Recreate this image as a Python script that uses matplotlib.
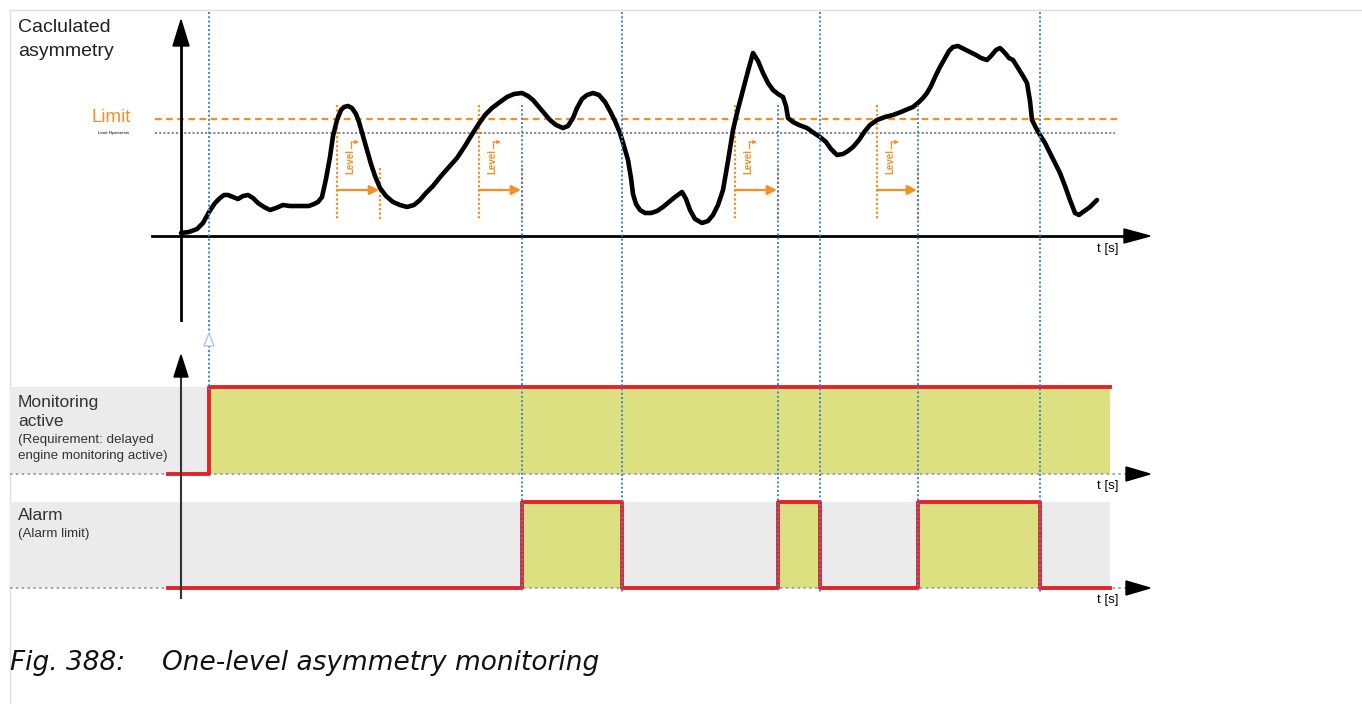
import matplotlib
matplotlib.use("Agg")
import matplotlib.pyplot as plt
from matplotlib.patches import Polygon

# ---- data ----
# calculated asymmetry curve: time (px right of the y axis), value (px above the t axis)
curve_t = [0, 8, 16, 22, 28, 34, 39, 43, 47, 52, 57, 62, 67, 72, 77, 83, 89, 95, 102, 109,
           116, 122, 128, 133, 137, 141, 145, 149, 152, 156, 160, 163, 167, 171, 175, 178,
           182, 186, 190, 194, 199, 205, 212, 219, 226, 233, 239, 245, 252, 260, 268, 276,
           284, 290, 297, 304, 311, 319, 326, 333, 341, 347, 352, 358, 364, 369, 375, 382,
           387, 392, 396, 401, 406, 412, 418, 424, 429, 434, 439, 443, 447, 450, 452, 455,
           459, 464, 470, 476, 482, 488, 494, 501, 505, 509, 514, 521, 527, 532, 537, 542,
           547, 552, 557, 562, 567, 572, 577, 582, 587, 592, 597, 602, 605, 607, 612, 618,
           626, 633, 639, 645, 650, 656, 662, 667, 672, 678, 684, 689, 696, 704, 712, 720,
           727, 732, 738, 742, 746, 750, 755, 759, 764, 768, 772, 777, 783, 789, 795, 800,
           806, 810, 815, 819, 824, 828, 832, 837, 842, 846, 849, 851, 855, 859, 864, 869,
           874, 879, 884, 889, 894, 898, 902, 909, 916]
curve_v = [3, 4, 7, 13, 24, 33, 38, 41, 41, 39, 37, 40, 41, 38, 33, 29, 26, 28, 31, 30,
           30, 30, 30, 32, 34, 39, 57, 79, 100, 116, 126, 129, 130, 128, 122, 114,
           100, 86, 72, 60, 48, 40, 34, 31, 29, 31, 36, 43, 50, 60, 69, 78,
           90, 100, 111, 121, 128, 134, 139, 142, 143, 140, 136, 129, 122, 116, 111, 108,
           110, 118, 128, 137, 141, 143, 141, 134, 125, 115, 103, 90, 76, 58, 42, 32,
           26, 23, 23, 25, 29, 34, 39, 44, 37, 26, 17, 13, 15, 21, 31, 46,
           75, 106, 127, 146, 165, 183, 175, 163, 153, 146, 142, 139, 130, 118, 114, 111,
           108, 103, 99, 94, 87, 81, 82, 85, 89, 96, 105, 111, 116, 119, 121, 124,
           127, 129, 134, 138, 143, 150, 161, 169, 178, 185, 189, 190, 187, 184, 181, 178,
           176, 180, 186, 188, 183, 178, 176, 168, 160, 153, 135, 116, 108, 101, 93, 83,
           73, 63, 50, 36, 23, 21, 24, 29, 36]

limit = 117
hysteresis = 103

# delay timers (start of limit crossing, delay length)
delay_start = [156, 298, 554, 696]
delay_len = [43, 43, 43, 41]

# event times (blue markers) and how tall they are
event_t = [28, 341, 441, 597, 639, 737, 859]
event_top = [12, 105, 12, 105, 12, 105, 12]

# binary signals
mon_t = [-13, 28, 929]
mon_v = [0, 1, 1]
alarm_t = [-13, 341, 441, 597, 639, 737, 859, 929]
alarm_v = [0, 1, 0, 1, 0, 1, 0, 0]

# ---- layout (pixels) ----
W, H = 1362, 704
T0 = 181          # x of the y axes
TOP_BASE = 236
MON_BASE, MON_HIGH = 474, 387
ALM_BASE, ALM_HIGH = 588, 502

ORANGE = "#f39025"
BLUE = "#3d86c8"
RED = "#e52228"
YELLOW = "#dce081"
GREYBG = "#ebebeb"
FONT = ["Liberation Sans", "DejaVu Sans"]

fig = plt.figure(figsize=(W / 100, H / 100), dpi=100)


def pixel_axes():
    a = fig.add_axes([0, 0, 1, 1])
    a.set_xlim(0, W)
    a.set_ylim(H, 0)
    a.axis("off")
    a.patch.set_alpha(0)
    return a


def overlay(base, unit):
    a = fig.add_axes([0, 0, 1, 1])
    a.set_xlim(-T0, W - T0)
    a.set_ylim((base - H) / unit, base / unit)
    a.axis("off")
    a.patch.set_alpha(0)
    return a


ax = pixel_axes()
ax_top = overlay(TOP_BASE, 1.0)
ax_mon = overlay(MON_BASE, MON_BASE - MON_HIGH)
ax_alm = overlay(ALM_BASE, ALM_BASE - ALM_HIGH)
ax_fg = pixel_axes()

# frame of the page
ax.plot([10, W], [10, 10], color="#dedede", lw=1)
ax.plot([10, 10], [10, H], color="#dedede", lw=1)

# ---- top panel ----
ax_top.plot([-29, 950], [0, 0], color="black", lw=2, zorder=3)
ax_top.plot([0, 0], [TOP_BASE - 320, TOP_BASE - 40], color="black", lw=2, zorder=3)
ax.add_patch(Polygon([[173, 46], [181, 20], [189, 46]], color="black", zorder=4))
ax.add_patch(Polygon([[1124, 229], [1150, 236], [1124, 243]], color="black", zorder=4))
ax.text(1108, 249, "t [s]", fontsize=9.5, family=FONT, ha="center", va="center")

ax_top.plot([-26, 939], [limit, limit], color=ORANGE, lw=1.6, ls=(0, (3, 2)), zorder=2)
ax_top.plot([-26, 934], [hysteresis, hysteresis], color="#8a8a8a", lw=1.5, ls=(0, (1, 1)), zorder=2)
ax.text(131, 117, "Limit", color=ORANGE, fontsize=13.5, family=FONT, ha="right", va="center")
ax.text(129, 133, "Limit Hysteresis", fontsize=3.2, family=FONT, ha="right", va="center")
ax.text(18, 27, "Caclulated", fontsize=14, family=FONT, ha="left", va="center", color="#222222")
ax.text(18, 51, "asymmetry", fontsize=14, family=FONT, ha="left", va="center", color="#222222")

for s, d in zip(delay_start, delay_len):
    ax_top.plot([s, s], [131, 16], color=ORANGE, lw=1.6, ls=(0, (1, 1)), zorder=2)
    ax_top.plot([s + d, s + d], [68, 16], color=ORANGE, lw=1.6, ls=(0, (1, 1)), zorder=2)
    ax_top.annotate("", xy=(s + d - 1, 46), xytext=(s, 46),
                    arrowprops=dict(arrowstyle="-|>", color=ORANGE, lw=1.6,
                                    mutation_scale=14, shrinkA=0, shrinkB=0), zorder=3)
    ax_top.text(s + 13, 74, "Level", rotation=90, fontsize=7, color=ORANGE,
                family=FONT, ha="center", va="center", fontweight="bold")
    ax_top.plot([s + 14, s + 14], [88, 94], color=ORANGE, lw=0.9)
    ax_top.annotate("", xy=(s + 22, 94), xytext=(s + 14, 94),
                    arrowprops=dict(arrowstyle="-|>", color=ORANGE, lw=0.9,
                                    mutation_scale=5, shrinkA=0, shrinkB=0))

ax_top.plot(curve_t, curve_v, color="black", lw=3.3, solid_joinstyle="round",
            solid_capstyle="round", zorder=5)

# ---- binary panels ----
for a, t, v, base in [(ax_mon, mon_t, mon_v, MON_BASE), (ax_alm, alarm_t, alarm_v, ALM_BASE)]:
    a.fill_between([-171, 929], 0, 1, color=GREYBG, lw=0, zorder=1)
    a.fill_between(t, 0, v, step="post", color=YELLOW, lw=0, zorder=2)
    a.plot([-171, 945], [0, 0], color="#999999", lw=1.2, ls=(0, (1.5, 2)), zorder=3)
    a.step(t, v, where="post", color=RED, lw=2.8, zorder=4)
    ax_fg.add_patch(Polygon([[1126, base - 7], [1150, base], [1126, base + 7]],
                            color="black", zorder=4))
    ax_fg.text(1108, base + 12, "t [s]", fontsize=9.5, family=FONT, ha="center", va="center")

# ---- event markers ----
for t, top in zip(event_t, event_top):
    bottom = 390 if t == event_t[0] else 592
    ax_fg.plot([T0 + t, T0 + t], [top, bottom], color=BLUE, lw=1.4, ls=(0, (1, 1.2)), zorder=3)
ax_fg.add_patch(Polygon([[204, 346], [209, 333], [214, 346]], facecolor="white",
                        edgecolor="#a9c8e6", lw=1, zorder=7))

# ---- lower y axis ----
ax_fg.plot([T0, T0], [598, 376], color="#333333", lw=1.5, zorder=8)
ax_fg.add_patch(Polygon([[174, 377], [181, 355], [188, 377]], color="black", zorder=8))

ax_fg.text(18, 403, "Monitoring", fontsize=12.5, family=FONT, va="center", color="#333333")
ax_fg.text(18, 422, "active", fontsize=12.5, family=FONT, va="center", color="#333333")
ax_fg.text(18, 440, "(Requirement: delayed", fontsize=9.6, family=FONT, va="center", color="#333333")
ax_fg.text(18, 456, "engine monitoring active)", fontsize=9.6, family=FONT, va="center", color="#333333")
ax_fg.text(18, 516, "Alarm", fontsize=12.5, family=FONT, va="center", color="#333333")
ax_fg.text(18, 534, "(Alarm limit)", fontsize=9.6, family=FONT, va="center", color="#333333")

# ---- caption ----
ax_fg.text(10, 663, "Fig. 388:", fontsize=19, style="italic", family="DejaVu Sans",
           va="center", color="#111111")
ax_fg.text(162, 663, "One-level asymmetry monitoring", fontsize=19, style="italic",
           family="DejaVu Sans", va="center", color="#111111")

fig.savefig("out.png", dpi=100)
